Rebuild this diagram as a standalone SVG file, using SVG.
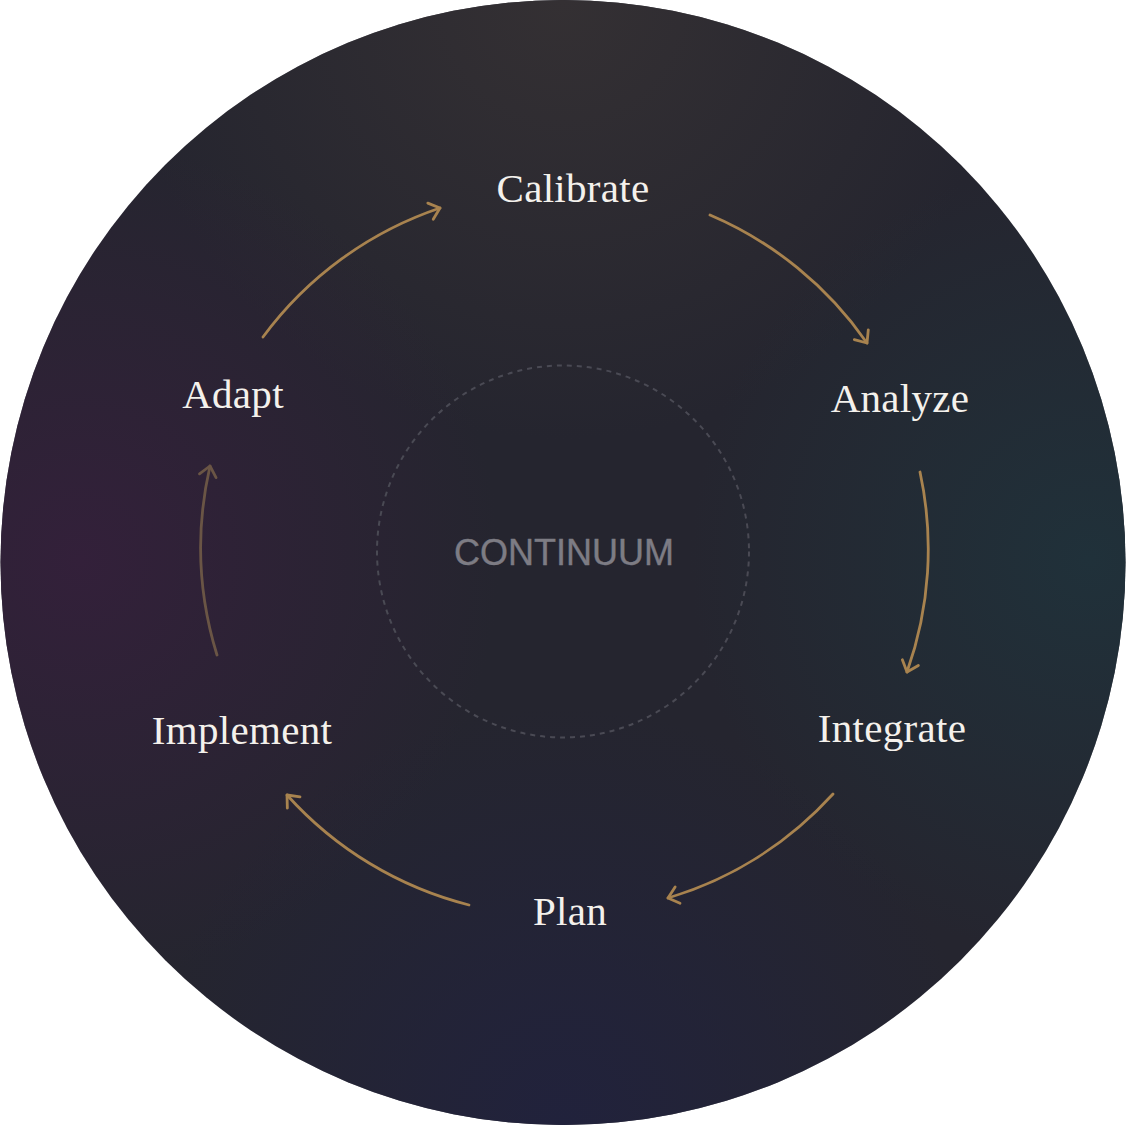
<svg xmlns="http://www.w3.org/2000/svg" width="1126" height="1125" viewBox="0 0 1126 1125">
  <defs>
    <style>
      .lbl { font-family: "Liberation Serif", "DejaVu Serif", serif; font-size: 41px; fill: #f4f1ec; text-anchor: middle; letter-spacing: 0.3px; }
      .core { font-family: "Liberation Sans", Arial, sans-serif; font-size: 36px; fill: #7d7c84; text-anchor: middle; stroke: #7d7c84; stroke-width: 0.4px; }
      .arc { fill: none; stroke: #a8834f; stroke-width: 2.8; stroke-linecap: round; marker-end: url(#chev); }
      .arc.dim { stroke: #6a5545; marker-end: url(#chevDim); }
    </style>
    <marker id="chev" markerUnits="userSpaceOnUse" orient="auto" markerWidth="30" markerHeight="30" refX="0" refY="0" viewBox="-15 -15 30 30" overflow="visible">
      <path d="M-10,-8.5 L0,0 L-10,8.5" fill="none" stroke="#a8834f" stroke-width="2.8" stroke-linecap="round" stroke-linejoin="round"/>
    </marker>
    <marker id="chevDim" markerUnits="userSpaceOnUse" orient="auto" markerWidth="30" markerHeight="30" refX="0" refY="0" viewBox="-15 -15 30 30" overflow="visible">
      <path d="M-10,-8.5 L0,0 L-10,8.5" fill="none" stroke="#6a5545" stroke-width="2.8" stroke-linecap="round" stroke-linejoin="round"/>
    </marker>
    <radialGradient id="gTop" cx="563" cy="0" r="440" gradientUnits="userSpaceOnUse">
      <stop offset="0" stop-color="#343033" stop-opacity="1"/>
      <stop offset="1" stop-color="#343033" stop-opacity="0"/>
    </radialGradient>
    <radialGradient id="gLeft" cx="80" cy="560" r="420" gradientUnits="userSpaceOnUse">
      <stop offset="0" stop-color="#33203a" stop-opacity="1"/>
      <stop offset="1" stop-color="#33203a" stop-opacity="0"/>
    </radialGradient>
    <radialGradient id="gRight" cx="1090" cy="560" r="400" gradientUnits="userSpaceOnUse">
      <stop offset="0" stop-color="#20313a" stop-opacity="1"/>
      <stop offset="1" stop-color="#20313a" stop-opacity="0"/>
    </radialGradient>
    <radialGradient id="gBot" cx="563" cy="1125" r="420" gradientUnits="userSpaceOnUse">
      <stop offset="0" stop-color="#21223c" stop-opacity="1"/>
      <stop offset="1" stop-color="#21223c" stop-opacity="0"/>
    </radialGradient>
    <clipPath id="disc"><circle cx="563" cy="562.5" r="562.5"/></clipPath>
  </defs>

  <g id="background" clip-path="url(#disc)">
    <rect x="0" y="0" width="1126" height="1125" fill="#25252f"/>
    <rect x="0" y="0" width="1126" height="1125" fill="url(#gTop)"/>
    <rect x="0" y="0" width="1126" height="1125" fill="url(#gLeft)"/>
    <rect x="0" y="0" width="1126" height="1125" fill="url(#gRight)"/>
    <rect x="0" y="0" width="1126" height="1125" fill="url(#gBot)"/>
  </g>

  <g id="core">
    <circle cx="563" cy="551.5" r="186" fill="none" stroke="#4a4a54" stroke-width="2" stroke-dasharray="5 5"/>
    <text class="core" x="564" y="565">CONTINUUM</text>
  </g>

  <g id="connectors">
    <path class="arc" d="M710,215 A365,365 0 0 1 867,343"/>
    <path class="arc" d="M920,472 A365,365 0 0 1 907,672"/>
    <path class="arc" d="M833,794 A365,365 0 0 1 668,898"/>
    <path class="arc" d="M469,905 A365,365 0 0 1 287,795"/>
    <path class="arc dim" d="M217,655 A365,365 0 0 1 210,466"/>
    <path class="arc" d="M263,337 A365,365 0 0 1 440,208"/>
  </g>

  <g id="node-calibrate"><text class="lbl" x="573" y="202">Calibrate</text></g>
  <g id="node-analyze"><text class="lbl" x="900" y="412">Analyze</text></g>
  <g id="node-integrate"><text class="lbl" x="892" y="742">Integrate</text></g>
  <g id="node-plan"><text class="lbl" x="570" y="925">Plan</text></g>
  <g id="node-implement"><text class="lbl" x="242" y="744">Implement</text></g>
  <g id="node-adapt"><text class="lbl" x="233" y="408">Adapt</text></g>
</svg>
